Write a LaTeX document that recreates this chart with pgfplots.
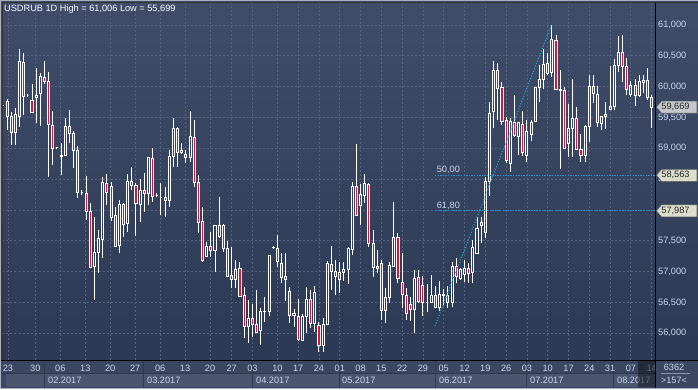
\documentclass[border=0pt]{standalone}
\usepackage{pgfplots}
\pgfplotsset{compat=1.18}
\usepackage{pgfplotstable}
\usepackage{fontspec}
\setmainfont{Liberation Sans}
\definecolor{bgtop}{HTML}{3F4D6A}
\definecolor{bgbot}{HTML}{2C3954}
\definecolor{band}{HTML}{3B4761}
\definecolor{monthbox}{HTML}{4A5670}
\definecolor{gridc}{HTML}{56647F}
\definecolor{lab}{HTML}{CAD6EC}
\definecolor{cred}{HTML}{E0103A}
\definecolor{fib}{HTML}{1E96D8}
\definecolor{boxg}{HTML}{C4C8CC}
\definecolor{boxy}{HTML}{DCDDCB}
\definecolor{framec}{HTML}{A8B0C0}
\definecolor{sepc}{HTML}{8C96AA}
\definecolor{sepd}{HTML}{2E384E}
\newcommand\fs{\fontsize{9.2}{11}\selectfont}
\pgfplotstableread{
o h l c
59.700 59.800 59.590 59.700
59.757 59.795 59.297 59.524
59.524 59.595 59.054 59.254
59.254 59.649 59.054 59.541
59.524 60.605 59.351 60.405
60.389 60.541 59.541 59.838
59.849 59.881 59.827 59.849
59.784 60.043 59.578 59.578
59.827 60.297 59.405 59.865
59.892 60.216 59.362 60.162
60.151 60.416 60.043 60.081
60.092 60.238 58.541 59.389
59.378 59.605 58.730 59.000
59.011 59.027 58.984 59.011
58.865 59.092 58.568 58.892
58.881 59.486 58.881 59.362
59.362 59.622 59.081 59.243
59.243 59.286 58.686 58.973
58.973 59.038 58.200 58.281
58.290 58.324 58.243 58.290
58.270 58.551 57.838 57.973
57.973 58.108 57.054 57.070
57.081 57.892 56.541 57.314
57.314 57.676 56.973 57.541
57.530 58.541 57.216 58.443
58.432 58.584 58.081 58.281
58.389 58.459 57.827 57.876
57.919 58.054 57.405 57.416
57.422 58.162 57.297 58.097
58.092 58.119 57.568 57.768
57.784 58.584 57.649 58.459
58.459 58.703 58.324 58.395
58.405 58.432 57.584 58.108
58.092 58.497 57.811 58.324
58.319 58.595 57.973 58.270
58.270 58.865 58.081 58.849
58.838 59.011 58.135 58.216
58.232 58.270 58.205 58.232
58.205 58.432 57.919 58.205
58.205 58.378 57.881 58.151
58.151 58.973 58.054 58.876
58.865 59.497 58.703 59.330
59.330 59.351 58.703 58.930
58.973 59.081 58.919 58.930
58.908 58.973 58.757 58.854
58.849 59.611 58.784 59.189
59.178 59.459 58.378 58.443
58.449 58.568 57.622 57.800
57.822 58.054 57.162 57.178
57.243 57.486 57.243 57.416
57.405 57.649 57.243 57.351
57.351 57.741 57.000 57.741
57.568 58.216 57.541 57.741
57.741 57.768 57.324 57.378
57.378 57.497 56.919 56.919
56.935 57.395 56.730 56.876
56.876 57.189 56.730 57.038
57.054 57.151 56.595 56.605
56.611 56.746 55.919 56.119
56.119 56.541 55.849 56.243
56.243 56.476 55.935 56.151
56.151 56.703 56.016 56.016
56.043 56.405 55.811 56.351
56.350 56.584 56.178 56.360
56.351 57.259 56.286 57.259
57.390 57.410 57.380 57.400
57.378 57.595 57.081 57.162
57.135 57.297 56.811 56.903
56.930 57.297 56.530 56.876
56.686 56.757 56.173 56.286
56.292 56.395 56.097 56.324
56.281 56.557 55.881 55.903
55.892 56.314 55.892 56.270
56.270 56.757 56.011 56.551
56.551 56.703 56.081 56.162
56.162 56.768 56.027 56.665
56.135 56.189 55.699 55.811
55.811 56.243 55.703 56.146
56.146 57.178 56.135 57.135
57.119 57.416 56.703 57.000
57.000 57.189 56.622 56.919
56.876 57.151 56.659 56.989
56.984 57.151 56.854 57.038
57.038 57.395 56.800 57.378
57.362 58.459 57.270 58.389
58.378 59.070 57.903 57.919
58.070 58.422 57.757 58.254
58.232 58.584 58.119 58.422
58.416 58.432 57.405 57.459
57.459 57.676 56.919 57.070
57.092 57.351 56.973 57.054
57.135 57.189 56.216 56.368
56.368 56.730 56.173 56.584
56.584 57.151 56.497 57.108
57.092 58.124 57.081 57.557
57.557 57.622 56.811 56.892
56.827 57.308 56.405 56.632
56.616 56.730 56.216 56.324
56.465 56.595 56.205 56.395
56.395 57.027 56.000 56.892
56.908 57.027 56.486 56.514
56.778 56.935 56.286 56.503
56.508 56.800 56.351 56.508
56.508 56.946 56.486 56.616
56.616 56.768 56.405 56.422
56.416 56.854 56.368 56.632
56.611 56.714 56.459 56.632
56.611 56.768 56.416 56.497
56.497 57.162 56.432 57.081
57.081 57.216 56.811 56.919
56.892 57.054 56.865 57.038
56.957 57.189 56.838 57.054
57.054 57.135 56.822 56.973
56.984 57.514 56.822 57.395
57.297 57.892 57.297 57.703
57.805 57.892 57.459 57.741
57.632 58.541 57.551 58.459
58.459 59.757 58.232 59.568
59.595 60.416 59.324 60.270
60.270 60.378 59.459 59.973
59.989 60.081 59.378 59.432
59.459 59.503 58.757 58.811
58.757 59.486 58.622 59.432
59.422 59.865 59.178 59.216
59.189 59.432 58.892 59.422
59.389 59.611 58.876 58.930
58.881 59.459 58.784 59.270
59.232 59.459 59.124 59.422
59.432 60.000 59.432 59.989
59.984 60.351 59.757 60.124
60.119 60.605 59.957 60.362
60.378 60.541 60.189 60.216
60.227 61.006 60.162 60.768
60.757 60.838 59.946 59.957
59.957 60.270 58.659 59.935
59.946 59.989 58.984 59.000
59.081 59.714 58.865 59.324
59.324 60.119 58.865 59.476
59.476 59.665 58.973 58.984
58.984 59.232 58.784 58.881
58.881 59.378 58.773 59.351
59.362 60.189 59.108 60.011
60.011 60.189 59.741 59.892
59.876 60.011 59.351 59.422
59.405 59.530 59.297 59.524
59.524 59.757 59.308 59.551
59.632 60.335 59.622 59.686
59.686 60.443 59.622 60.351
60.351 60.822 60.243 60.557
60.557 60.838 60.081 60.335
60.335 60.459 59.865 59.957
59.876 60.092 59.827 60.027
60.027 60.124 59.686 59.865
59.865 60.189 59.827 60.081
60.070 60.189 59.903 60.108
60.108 60.297 59.784 59.827
59.827 59.865 59.335 59.669
}\ohlc
\begin{document}
\begin{tikzpicture}[x=1pt,y=1pt]
\useasboundingbox (0,0) rectangle (698,389);
\shade[top color=bgtop, bottom color=bgbot] (0,29) rectangle (698,389);
\fill[band] (0,0) rectangle (698,29);
% month row
\fill[monthbox] (6,2) rectangle (655,15.5);
\foreach \mx in {44.5,143.5,252.5,339.5,435.5,526.5,613.5}{\draw[sepd,line width=1pt] (\mx,2) -- (\mx,28.5);}
\draw[sepd,line width=1pt] (0,15.5) -- (655,15.5);
\foreach \mx/\mt in {48/02.2017,147/03.2017,256/04.2017,342/05.2017,439/06.2017,530/07.2017,617/08.2017}{\node[anchor=west,inner sep=0,text=lab,font=\fs] at (\mx,8.5) {\mt};}
\begin{axis}[at={(2.5pt,29pt)}, anchor=south west, scale only axis,
  width=652.5pt, height=357pt,
  xmin=-0.1, xmax=156.8, ymin=55.568, ymax=61.357,
  axis line style={draw=none}, tick style={draw=none},
  major tick length=0pt,
  grid=major, major grid style={gridc, dash pattern=on 2pt off 2pt, line width=0.8pt},
  xtick={1.2,7.8,13.8,19.8,25.8,31.8,37.8,43.8,49.8,55,60,66,71,76,81,86,91,96,101,106,111,116,121,126,131,136,141,146,151,156},
  xticklabels={23,30,06,13,20,27,06,13,20,27,03,10,17,24,01,08,15,22,29,05,12,19,26,03,10,17,24,31,07,14},
  ytick={56,56.5,57,57.5,58,58.5,59,59.5,60,60.5,61},
  yticklabels={{56,000},{56,500},{57,000},{57,500},{},{58,500},{59,000},{59,500},{60,000},{60,500},{61,000}},
  yticklabel pos=right,
  xticklabel style={anchor=center, yshift=-8pt, text=lab, font=\fs},
  yticklabel style={anchor=west, text=lab, font=\fs, inner sep=3pt},
]
\pgfplotstablegetrowsof{\ohlc}
\pgfmathtruncatemacro{\N}{\pgfplotsretval-1}
\pgfplotsforeachungrouped \i in {0,...,\N}{%
  \pgfplotstablegetelem{\i}{o}\of\ohlc \let\vO\pgfplotsretval
  \pgfplotstablegetelem{\i}{h}\of\ohlc \let\vH\pgfplotsretval
  \pgfplotstablegetelem{\i}{l}\of\ohlc \let\vL\pgfplotsretval
  \pgfplotstablegetelem{\i}{c}\of\ohlc \let\vC\pgfplotsretval
  \pgfmathsetmacro\bLo{min(\vO,\vC)}%
  \pgfmathsetmacro\bHi{max(\vO,\vC)}%
  \pgfmathsetmacro\xa{\i-0.25}%
  \pgfmathsetmacro\xb{\i+0.25}%
  \pgfmathtruncatemacro\bear{\vC<\vO}%
  \ifnum\bear=1 \def\fc{cred}\else\def\fc{none}\fi
  \edef\tmp{%
    \noexpand\addplot[white, line width=1pt] coordinates {(\i,\vL) (\i,\bLo)};
    \noexpand\addplot[white, line width=1pt] coordinates {(\i,\bHi) (\i,\vH)};
    \noexpand\addplot[draw=white, fill=\fc, line width=1pt] coordinates {(\xa,\bLo) (\xb,\bLo) (\xb,\bHi) (\xa,\bHi)} -- cycle;
  }%
  \tmp
}
\addplot[fib, line width=1.3pt, dash pattern=on 1.3pt off 1.3pt] coordinates {(103.9,58.563) (156.8,58.563)};
\addplot[fib, line width=1.3pt, dash pattern=on 1.3pt off 1.3pt] coordinates {(103.9,57.987) (156.8,57.987)};
\addplot[fib!80!cyan, line width=1.1pt, dash pattern=on 1.1pt off 1.6pt] coordinates {(103.9,56.12) (131.9,61.006)};
\node[anchor=base west, inner sep=0, text=lab, font=\fs, yshift=2.5pt] at (axis cs:104.3,58.563) {50,00};
\node[anchor=base west, inner sep=0, text=lab, font=\fs, yshift=2.5pt] at (axis cs:104.3,57.987) {61,80};
\coordinate (pA) at (axis cs:0,59.669);
\coordinate (pB) at (axis cs:0,58.563);
\coordinate (pC) at (axis cs:0,57.987);
\end{axis}
% frames
\draw[black, line width=1pt] (0,29) -- (698,29);
\draw[black, line width=1pt] (655,0) -- (655,386.5);
\draw[black!80, line width=1pt] (2,29) -- (2,386.5) -- (698,386.5);
\draw[framec] (0,388.5) -- (698,388.5);
\fill[black!70!band, opacity=0.55] (638,2) rectangle (654.5,28.5);
\fill[framec] (0,0) rectangle (698,1.5);
\fill[framec] (0,0) rectangle (1,389);
% price boxes
\draw[fill=boxg, draw=black!60, line width=0.6pt] (656.5,0 |- pA) -- ++(5,6) -- ++(35.5,0) -- ++(0,-12) -- ++(-35.5,0) -- cycle;
\node[font=\fs, text=black!85] at (675.5,0 |- pA) {59,669};
\draw[fill=boxy, draw=black!60, line width=0.6pt] (656.5,0 |- pB) -- ++(5,6) -- ++(35.5,0) -- ++(0,-12) -- ++(-35.5,0) -- cycle;
\node[font=\fs, text=black!85] at (675.5,0 |- pB) {58,563};
\draw[fill=boxy, draw=black!60, line width=0.6pt] (656.5,0 |- pC) -- ++(5,6) -- ++(35.5,0) -- ++(0,-12) -- ++(-35.5,0) -- cycle;
\node[font=\fs, text=black!85] at (675.5,0 |- pC) {57,987};
% bottom right
\node[font=\fs, text=lab] at (674,22) {6362};
\draw[sepc, line width=0.6pt] (661,15.5) -- (690,15.5);
\node[font=\fs, text=lab] at (674,8.5) {>157<};
% title
\node[anchor=west, inner sep=0, font=\fs, text=white!90!lab] at (4,380) {USDRUB 1D High = 61,006 Low = 55,699};
\end{tikzpicture}
\end{document}
